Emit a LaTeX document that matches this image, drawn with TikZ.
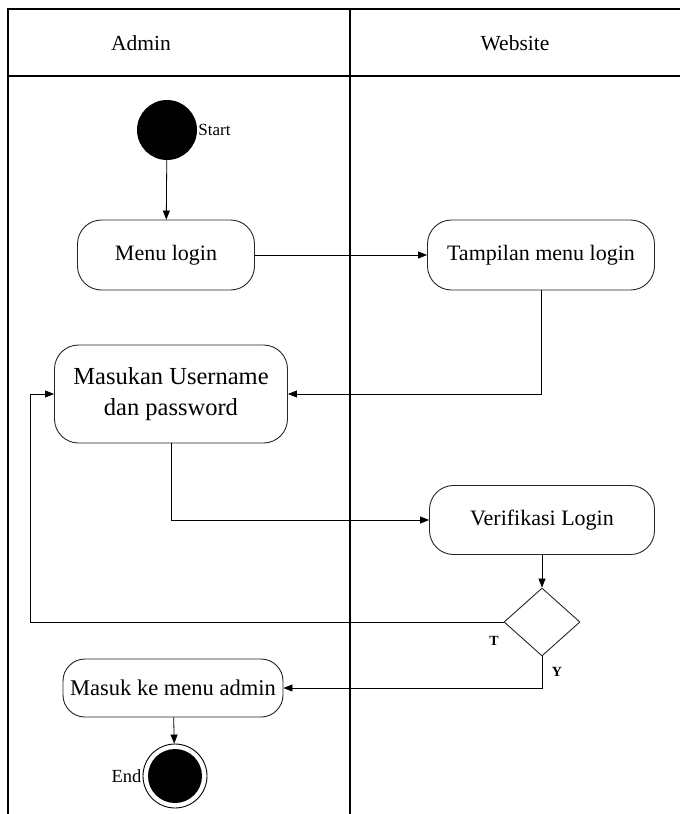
\documentclass[tikz,border=0pt]{standalone}
\usepackage{fontspec}
\setmainfont{Liberation Serif}
\usetikzlibrary{arrows.meta,shapes.geometric}
\begin{document}
\begin{tikzpicture}[x=1pt,y=-1pt,
  lane/.style={line width=1.6pt,draw=black},
  act/.style={draw=black!85,line width=0.9pt,rounded corners=24pt,fill=white,align=center,inner sep=0pt},
  big/.style={font=\fontsize{22}{22}\selectfont},
  flow/.style={draw=black,line width=0.8pt,-{Triangle[length=9pt,width=7pt]}},
  lbl/.style={font=\bfseries\fontsize{14}{14}\selectfont,inner sep=0pt}]
\useasboundingbox (0,0) rectangle (680,814);
% swimlanes
\draw[lane] (8,814) -- (8,9) -- (680,9);
\draw[lane] (8,76) -- (680,76);
\draw[lane] (350,9) -- (350,814);
\node[font=\fontsize{21.5}{21.5}\selectfont] (hadmin) at (141,43) {Admin};
\node[font=\fontsize{21.5}{21.5}\selectfont] (hweb) at (515,43) {Website};
% start and activities
\node[circle,fill=black,minimum size=60pt,inner sep=0pt] (start) at (167,130) {};
\node[anchor=west,font=\fontsize{17}{17}\selectfont,inner sep=1pt] (startlbl) at (start.east) {Start};
\node[act,big,minimum width=177pt,minimum height=70pt] (menu) at (166,255) {Menu login};
\node[act,big,minimum width=227pt,minimum height=70pt] (tampil) at (541,255) {Tampilan menu login};
\node[act,minimum width=233pt,minimum height=98pt,font=\fontsize{24.5}{31}\selectfont] (masuk) at (171,394) {Masukan Username\\dan password};
\node[act,big,minimum width=225pt,minimum height=69pt] (verif) at (542,520) {Verifikasi Login};
\node[diamond,draw=black!85,line width=0.9pt,minimum width=76pt,minimum height=68pt,inner sep=0pt] (dec) at (542,622) {};
\node[act,minimum width=220pt,minimum height=58pt,rounded corners=22pt,font=\fontsize{22.5}{22.5}\selectfont] (admin) at (173,688) {Masuk ke menu admin};
\node[circle,draw=black,line width=0.9pt,minimum size=64pt,inner sep=0pt] (endo) at (175,776) {};
\node[circle,fill=black,minimum size=54pt,inner sep=0pt] (endi) at (endo) {};
\node[anchor=east,font=\fontsize{18.5}{18.5}\selectfont,inner sep=1pt] (endlbl) at (endo.west) {End};
% flows
\draw[flow] (start) -- (menu);
\draw[flow] (menu) -- (tampil);
\draw[flow] (tampil.south) |- (masuk.east);
\draw[flow] (masuk.south) |- (verif.west);
\draw[flow] (verif) -- (dec);
\coordinate (back) at (30,622);
\draw[flow] (dec.west) -- (back) |- (masuk.west);
\draw[flow] (dec.south) |- (admin.east);
\draw[flow] (admin) -- (endo);
\node[lbl] (tl) at (494,641) {T};
\node[lbl] (yl) at (557,672) {Y};
\end{tikzpicture}
\end{document}
